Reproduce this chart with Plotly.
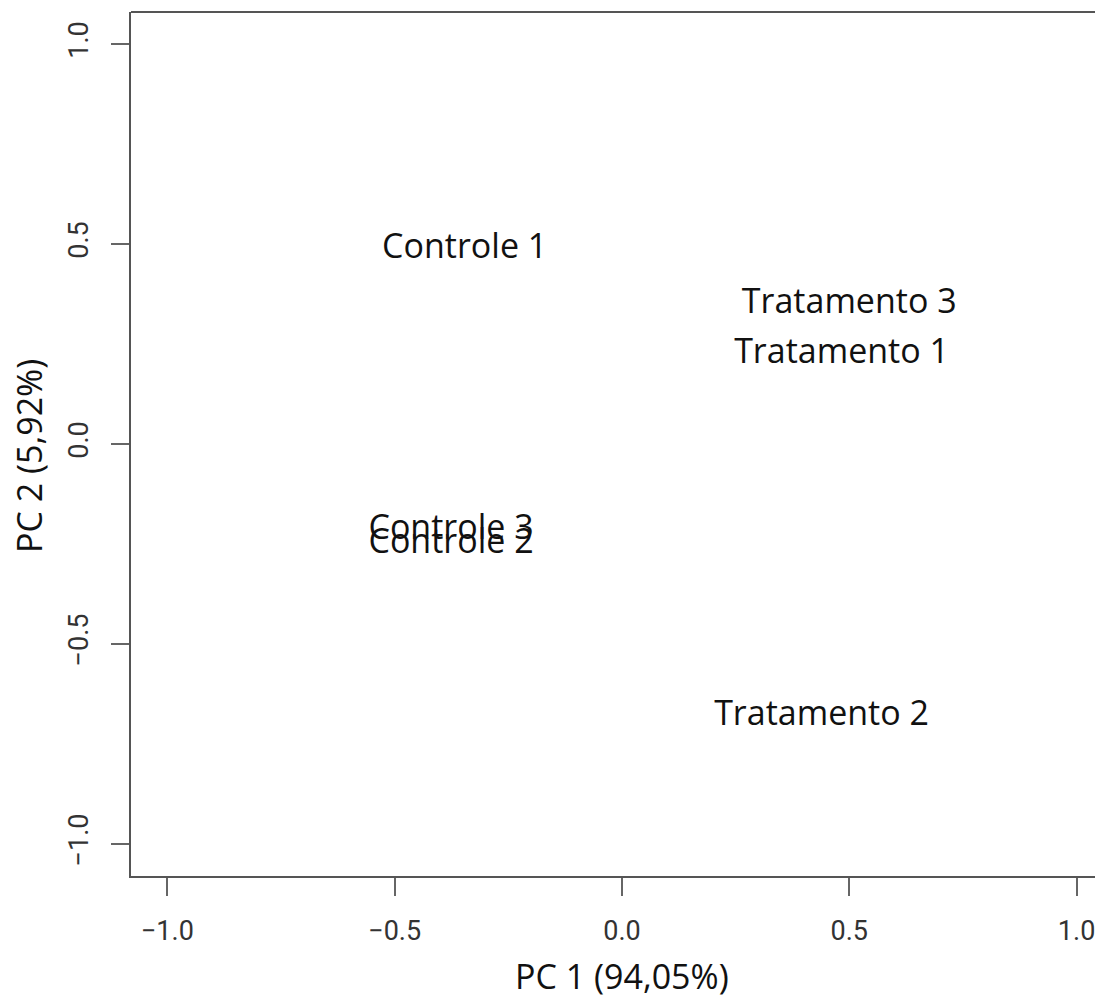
import plotly.graph_objects as go

labels = ["Controle 1", "Tratamento 3", "Tratamento 1", "Controle 3", "Controle 2", "Tratamento 2"]
pc1 = [-0.346, 0.500, 0.483, -0.376, -0.376, 0.439]
pc2 = [0.487, 0.350, 0.225, -0.217, -0.250, -0.682]

tick_vals = [-1.0, -0.5, 0.0, 0.5, 1.0]
tick_text = ["\u22121.0", "\u22120.5", "0.0", "0.5", "1.0"]

x_title = "PC 1 (94,05%)"
y_title = "PC 2 (5,92%)"

label_font = dict(family="Open Sans", size=34, color="#111111")
tick_font = dict(family="Roboto", size=27, color="#333333")

fig = go.Figure()
fig.add_trace(go.Scatter(
    x=pc1, y=pc2, text=labels, mode="text",
    textposition="middle center", textfont=label_font,
    hoverinfo="skip", showlegend=False,
))

# page body has an 8px default margin; compensate so the chart lands where the reference has it
OFF = 8
W, H = 1103 - OFF, 1001 - OFF
ml, mt, mb, mr = 131 - OFF, 12 - OFF, 125, 0
plot_w = W - ml - mr
plot_h = H - mt - mb
px_per_x = 454.6
x_lo = -1.08
x_hi = x_lo + plot_w / px_per_x

fig.update_layout(
    width=W, height=H,
    margin=dict(l=ml, r=mr, t=mt, b=mb, pad=0),
    paper_bgcolor="white", plot_bgcolor="white",
    xaxis=dict(
        range=[x_lo, x_hi], showgrid=False, zeroline=False,
        showline=True, linecolor="#555555", linewidth=2, mirror=False,
        ticks="outside", ticklen=18, tickwidth=2, tickcolor="#666666",
        tickvals=tick_vals, ticktext=tick_text, tickfont=tick_font,
        ticklabelstandoff=12,
    ),
    yaxis=dict(
        range=[-1.08, 1.08], showgrid=False, zeroline=False,
        showline=True, linecolor="#555555", linewidth=2, mirror=False,
        ticks="outside", ticklen=18, tickwidth=2, tickcolor="#666666",
        tickvals=tick_vals, ticktext=tick_text, tickfont=tick_font,
        tickangle=-90, ticklabelstandoff=12,
    ),
    shapes=[dict(type="line", xref="paper", yref="paper", x0=0, x1=1, y0=1, y1=1,
                 line=dict(color="#555555", width=2))],
    annotations=[
        dict(text=x_title, xref="x", yref="paper", x=0.0,
             y=(plot_h + mt - (976 - OFF)) / plot_h,
             xanchor="center", yanchor="middle", showarrow=False, font=label_font),
        dict(text=y_title, xref="paper", yref="y", x=(29 - OFF - ml) / plot_w, y=-0.03,
             xanchor="center", yanchor="middle", showarrow=False, textangle=-90, font=label_font),
    ],
)

fig.write_html("out.html")
